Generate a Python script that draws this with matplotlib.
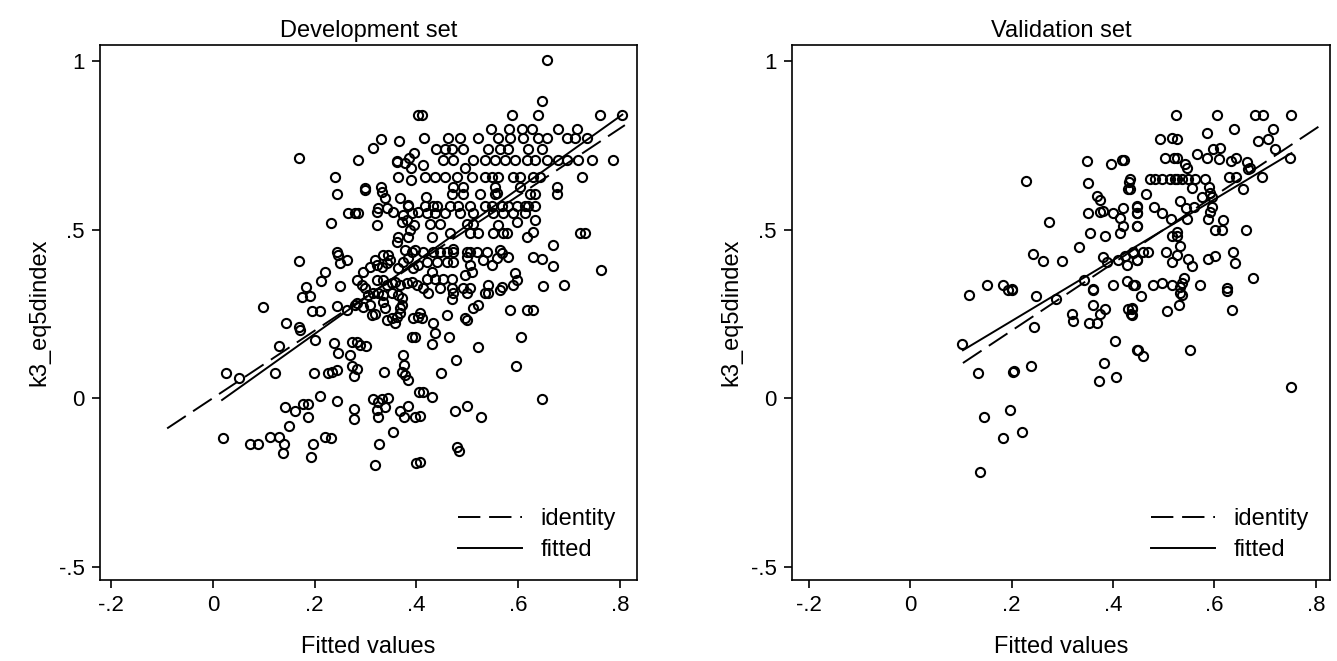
import numpy as np
import matplotlib.pyplot as plt

plt.rcParams['font.family'] = ['Liberation Sans', 'DejaVu Sans']

dev_x = [0.403, 0.330, 0.315, 0.366, 0.169, 0.285, 0.362, 0.362, 0.378, 0.386, 0.395, 0.389, 0.240, 0.364, 0.390, 0.299, 0.330,
         0.657, 0.647, 0.411, 0.588, 0.639, 0.761, 0.804, 0.547, 0.582, 0.608, 0.627, 0.678, 0.716,
         0.415, 0.462, 0.486, 0.521, 0.560, 0.584, 0.610, 0.639, 0.657, 0.696, 0.712, 0.735,
         0.439, 0.456, 0.470, 0.492, 0.541, 0.564, 0.580, 0.619, 0.647,
         0.452, 0.472, 0.511, 0.535, 0.555, 0.574, 0.594, 0.617, 0.633, 0.657, 0.678, 0.696, 0.718, 0.745, 0.787,
         0.413, 0.496, 0.417, 0.437, 0.456, 0.480, 0.509, 0.535, 0.549, 0.560, 0.590, 0.604, 0.629, 0.643, 0.726,
         0.676, 0.472, 0.492, 0.555, 0.604,
         0.244, 0.299, 0.332, 0.338, 0.368, 0.383, 0.383, 0.265, 0.279, 0.285, 0.322, 0.324, 0.342, 0.354, 0.374, 0.391, 0.403,
         0.232, 0.322, 0.372, 0.381, 0.395, 0.387, 0.383, 0.364, 0.362, 0.378, 0.391, 0.397,
         0.244, 0.246, 0.264, 0.250, 0.169, 0.319, 0.334, 0.344, 0.348, 0.342, 0.364, 0.374, 0.383, 0.393, 0.403,
         0.220, 0.295, 0.309, 0.322, 0.332, 0.212, 0.283, 0.293, 0.299, 0.322, 0.334, 0.342, 0.352, 0.358,
         0.368, 0.381, 0.391, 0.401, 0.250, 0.183, 0.175, 0.191, 0.305, 0.315, 0.324, 0.334, 0.352, 0.364, 0.372,
         0.283, 0.295, 0.309, 0.334, 0.338, 0.372, 0.368, 0.098, 0.195, 0.210, 0.244, 0.264, 0.279,
         0.313, 0.319, 0.342, 0.352, 0.362, 0.368, 0.393, 0.403, 0.144, 0.169, 0.358,
         0.419, 0.470, 0.492, 0.525, 0.555, 0.558, 0.623, 0.633, 0.676,
         0.417, 0.433, 0.440, 0.466, 0.482, 0.505, 0.535, 0.549, 0.568, 0.580, 0.598, 0.614, 0.619, 0.633,
         0.421, 0.437, 0.456, 0.486, 0.511, 0.551, 0.570, 0.590, 0.614,
         0.427, 0.446, 0.500, 0.511, 0.560, 0.598, 0.633,
         0.466, 0.505, 0.521, 0.551, 0.570, 0.578, 0.617, 0.629, 0.722, 0.731, 0.431,
         0.413, 0.433, 0.446, 0.460, 0.472, 0.472, 0.500, 0.505, 0.519, 0.539, 0.564, 0.568, 0.580, 0.669, 0.629, 0.647,
         0.421, 0.440, 0.460, 0.472, 0.500, 0.505, 0.531, 0.549, 0.558, 0.669, 0.763,
         0.431, 0.496, 0.509, 0.594, 0.421, 0.437, 0.452, 0.470, 0.598, 0.590, 0.541, 0.568, 0.564, 0.649, 0.690,
         0.413, 0.446, 0.470, 0.492, 0.505, 0.423, 0.472, 0.500, 0.535, 0.541, 0.470, 0.511, 0.521,
         0.584, 0.617, 0.629, 0.407, 0.411, 0.460, 0.496, 0.500, 0.433,
         0.171, 0.201, 0.130, 0.238, 0.246, 0.273, 0.283, 0.289, 0.301, 0.269, 0.273, 0.283, 0.277,
         0.391, 0.397, 0.374, 0.376, 0.372, 0.378, 0.383, 0.026, 0.051, 0.122, 0.199, 0.226, 0.234, 0.244, 0.336,
         0.405, 0.210, 0.244, 0.142, 0.161, 0.177, 0.187, 0.187, 0.315, 0.324, 0.332, 0.344, 0.322, 0.324, 0.338,
         0.277, 0.277, 0.368, 0.376, 0.383, 0.397, 0.150, 0.354, 0.020, 0.073, 0.089, 0.112, 0.130, 0.140, 0.138,
         0.197, 0.220, 0.232, 0.193, 0.326, 0.319, 0.399,
         0.437, 0.464, 0.431, 0.521, 0.606, 0.478, 0.596, 0.448, 0.413, 0.431, 0.647, 0.407, 0.476, 0.500, 0.527,
         0.480, 0.484, 0.407]
dev_y = [0.840, 0.769, 0.742, 0.763, 0.712, 0.706, 0.700, 0.703, 0.697, 0.712, 0.727, 0.682, 0.656, 0.656, 0.647, 0.623, 0.626,
         1.003, 0.881, 0.840, 0.840, 0.840, 0.840, 0.840, 0.798, 0.798, 0.798, 0.798, 0.798, 0.798,
         0.771, 0.771, 0.771, 0.771, 0.771, 0.771, 0.771, 0.771, 0.771, 0.771, 0.771, 0.771,
         0.739, 0.739, 0.739, 0.739, 0.739, 0.739, 0.739, 0.739, 0.739,
         0.706, 0.706, 0.706, 0.706, 0.706, 0.706, 0.706, 0.706, 0.706, 0.706, 0.706, 0.706, 0.706, 0.706, 0.706,
         0.691, 0.682, 0.656, 0.656, 0.656, 0.656, 0.656, 0.656, 0.656, 0.656, 0.656, 0.656, 0.656, 0.656, 0.656,
         0.626, 0.626, 0.626, 0.626, 0.626,
         0.605, 0.617, 0.611, 0.593, 0.593, 0.570, 0.573, 0.549, 0.549, 0.549, 0.552, 0.564, 0.564, 0.552, 0.543, 0.549, 0.552,
         0.519, 0.513, 0.522, 0.528, 0.513, 0.499, 0.478, 0.478, 0.463, 0.439, 0.433, 0.439,
         0.433, 0.424, 0.409, 0.401, 0.407, 0.409, 0.424, 0.424, 0.409, 0.401, 0.386, 0.404, 0.415, 0.386, 0.395,
         0.374, 0.374, 0.389, 0.395, 0.389, 0.347, 0.350, 0.335, 0.326, 0.350, 0.350, 0.335, 0.341, 0.344,
         0.335, 0.341, 0.344, 0.335, 0.332, 0.329, 0.300, 0.303, 0.306, 0.312, 0.312, 0.306, 0.312, 0.306, 0.297,
         0.282, 0.270, 0.276, 0.285, 0.267, 0.276, 0.267, 0.270, 0.258, 0.258, 0.273, 0.261, 0.276,
         0.246, 0.249, 0.231, 0.237, 0.240, 0.252, 0.237, 0.240, 0.223, 0.211, 0.223,
         0.596, 0.605, 0.605, 0.605, 0.605, 0.608, 0.605, 0.605, 0.605,
         0.570, 0.570, 0.570, 0.570, 0.570, 0.570, 0.570, 0.570, 0.570, 0.570, 0.570, 0.570, 0.570, 0.570,
         0.549, 0.549, 0.549, 0.549, 0.549, 0.549, 0.549, 0.549, 0.549,
         0.516, 0.516, 0.516, 0.516, 0.513, 0.522, 0.528,
         0.490, 0.490, 0.490, 0.490, 0.490, 0.490, 0.478, 0.493, 0.490, 0.490, 0.478,
         0.433, 0.433, 0.433, 0.433, 0.433, 0.442, 0.433, 0.433, 0.433, 0.433, 0.439, 0.430, 0.418, 0.454, 0.418, 0.412,
         0.404, 0.404, 0.404, 0.404, 0.418, 0.395, 0.409, 0.395, 0.415, 0.392, 0.380,
         0.374, 0.365, 0.374, 0.371, 0.353, 0.353, 0.353, 0.353, 0.350, 0.335, 0.335, 0.329, 0.320, 0.332, 0.335,
         0.326, 0.326, 0.326, 0.326, 0.326, 0.312, 0.312, 0.312, 0.312, 0.312, 0.294, 0.267, 0.276,
         0.261, 0.261, 0.261, 0.252, 0.237, 0.246, 0.237, 0.231, 0.223,
         0.202, 0.172, 0.154, 0.163, 0.134, 0.166, 0.166, 0.157, 0.154, 0.128, 0.095, 0.086, 0.065,
         0.181, 0.181, 0.128, 0.098, 0.077, 0.068, 0.053, 0.074, 0.059, 0.074, 0.074, 0.074, 0.077, 0.083, 0.077,
         0.018, 0.006, -0.009, -0.027, -0.039, -0.018, -0.018, -0.056, -0.003, -0.012, -0.003, 0.000, -0.036, -0.056, -0.027,
         -0.033, -0.062, -0.039, -0.056, -0.024, -0.056, -0.083, -0.101, -0.119, -0.137, -0.137, -0.116, -0.116, -0.137, -0.163,
         -0.137, -0.116, -0.119, -0.175, -0.137, -0.199, -0.193,
         0.193, 0.181, 0.160, 0.151, 0.181, 0.113, 0.095, 0.074, 0.018, 0.003, -0.003, -0.053, -0.039, -0.024, -0.056,
         -0.145, -0.157, -0.190]

# Validation set
val_x = [0.349, 0.396, 0.418, 0.422, 0.229, 0.351, 0.432, 0.430, 0.369, 0.375, 0.351, 0.375, 0.381,
         0.400, 0.420, 0.414, 0.420, 0.414, 0.448, 0.448, 0.448, 0.274, 0.355, 0.385, 0.333,
         0.243, 0.262, 0.300, 0.381, 0.389, 0.410, 0.424, 0.440, 0.428, 0.448,
         0.152, 0.183, 0.201, 0.343, 0.361, 0.400, 0.428, 0.440,
         0.525, 0.606, 0.680, 0.696, 0.751, 0.639, 0.586, 0.716, 0.493, 0.517, 0.527, 0.686, 0.706,
         0.598, 0.611, 0.720, 0.503, 0.521, 0.527, 0.566, 0.586, 0.609, 0.633, 0.643, 0.665, 0.750,
         0.542, 0.546, 0.667, 0.671,
         0.434, 0.473, 0.483, 0.497, 0.513, 0.523, 0.527, 0.536, 0.548, 0.562, 0.582,
         0.556, 0.590, 0.592, 0.629, 0.643, 0.657, 0.694, 0.434, 0.465,
         0.532, 0.544, 0.560, 0.575, 0.595, 0.596, 0.592, 0.588, 0.448, 0.448, 0.481, 0.497, 0.448,
         0.515, 0.546, 0.617, 0.602, 0.615, 0.663, 0.527, 0.517, 0.527, 0.532,
         0.440, 0.460, 0.469, 0.505, 0.527, 0.517, 0.548, 0.556, 0.588, 0.602, 0.637, 0.641, 0.448, 0.676,
         0.444, 0.479, 0.497, 0.517, 0.536, 0.540, 0.532, 0.572, 0.625,
         0.116, 0.193, 0.201, 0.249, 0.288, 0.361, 0.361, 0.385, 0.375, 0.320, 0.322, 0.353, 0.369,
         0.430, 0.438, 0.436, 0.245, 0.103, 0.404, 0.448, 0.383, 0.373, 0.406, 0.134, 0.203, 0.205, 0.239,
         0.146, 0.197, 0.183, 0.221, 0.138,
         0.456, 0.438, 0.438, 0.507, 0.531, 0.533, 0.536, 0.625, 0.635, 0.450, 0.460, 0.552, 0.751]
val_y = [0.703, 0.694, 0.706, 0.708, 0.644, 0.638, 0.641, 0.620, 0.599, 0.588, 0.549, 0.552, 0.555,
         0.549, 0.564, 0.534, 0.510, 0.490, 0.567, 0.549, 0.510, 0.522, 0.490, 0.481, 0.448,
         0.427, 0.407, 0.407, 0.418, 0.404, 0.409, 0.421, 0.430, 0.395, 0.409,
         0.335, 0.335, 0.323, 0.350, 0.323, 0.335, 0.347, 0.335,
         0.840, 0.840, 0.840, 0.840, 0.840, 0.798, 0.786, 0.798, 0.769, 0.771, 0.769, 0.763, 0.769,
         0.739, 0.742, 0.739, 0.712, 0.712, 0.712, 0.724, 0.712, 0.709, 0.703, 0.712, 0.700, 0.712,
         0.694, 0.682, 0.680, 0.682,
         0.650, 0.650, 0.650, 0.650, 0.650, 0.650, 0.650, 0.650, 0.650, 0.650, 0.650,
         0.623, 0.626, 0.608, 0.656, 0.656, 0.620, 0.656, 0.620, 0.605,
         0.585, 0.564, 0.567, 0.596, 0.596, 0.567, 0.552, 0.531, 0.570, 0.549, 0.567, 0.549, 0.510,
         0.531, 0.531, 0.528, 0.499, 0.499, 0.499, 0.493, 0.481, 0.481, 0.451,
         0.433, 0.433, 0.433, 0.433, 0.424, 0.404, 0.412, 0.392, 0.412, 0.421, 0.433, 0.401, 0.409, 0.356,
         0.335, 0.335, 0.341, 0.335, 0.341, 0.356, 0.329, 0.335, 0.326,
         0.306, 0.320, 0.320, 0.303, 0.294, 0.320, 0.276, 0.264, 0.249, 0.249, 0.228, 0.223, 0.223,
         0.264, 0.264, 0.249, 0.211, 0.160, 0.169, 0.142, 0.104, 0.050, 0.062, 0.074, 0.077, 0.080, 0.095,
         -0.056, -0.036, -0.119, -0.101, -0.220,
         0.303, 0.267, 0.246, 0.258, 0.276, 0.312, 0.306, 0.317, 0.261, 0.142, 0.125, 0.142, 0.033]

# identity line range and fitted line (slope, intercept, x range) for each panel
dev_ident = [-0.09, 0.81]
dev_fit = [1.076, -0.025, 0.018, 0.805]
val_ident = [0.104, 0.81]
val_fit = [0.903, 0.048, 0.104, 0.752]

xticks = [-0.2, 0, 0.2, 0.4, 0.6, 0.8]
xtick_labels = ['-.2', '0', '.2', '.4', '.6', '.8']
yticks = [-0.5, 0, 0.5, 1]
ytick_labels = ['-.5', '0', '.5', '1']

fig = plt.figure(figsize=(13.37, 6.61), dpi=100)
ax1 = fig.add_axes([0.0748, 0.1225, 0.4017, 0.809])
ax2 = fig.add_axes([0.5924, 0.1225, 0.4024, 0.809])


def panel(ax, xs, ys, ident, fit, title, xlim):
    ax.plot(xs, ys, 'o', mfc='none', mec='black', ms=6.6, mew=1.5, linestyle='none')
    ix = np.array(ident)
    ax.plot(ix, ix, color='black', lw=1.4, dashes=(11.5, 4.5), label='identity')
    fx = np.array(fit[2:])
    ax.plot(fx, fit[0] * fx + fit[1], color='black', lw=1.4, label='fitted')
    ax.set_xlim(xlim)
    ax.set_ylim(-0.54, 1.047)
    ax.set_xticks(xticks)
    ax.set_xticklabels(xtick_labels)
    ax.set_yticks(yticks)
    ax.set_yticklabels(ytick_labels)
    ax.tick_params(direction='out', length=6, width=1.2, labelsize=16, pad=5)
    for s in ax.spines.values():
        s.set_linewidth(1.2)
    ax.set_title(title, fontsize=17, pad=6)
    ax.set_xlabel('Fitted values', fontsize=17, labelpad=14)
    ax.set_ylabel('k3_eq5dindex', fontsize=17, labelpad=6)
    ax.legend(loc='lower right', bbox_to_anchor=(1.0, -0.005), frameon=False, fontsize=17,
              handlelength=2.7, handletextpad=0.8, labelspacing=0.4)


panel(ax1, dev_x, dev_y, dev_ident, dev_fit, 'Development set', (-0.222, 0.834))
panel(ax2, val_x, val_y, val_ident, val_fit, 'Validation set', (-0.233, 0.828))

fig.savefig('out.png', dpi=100)
